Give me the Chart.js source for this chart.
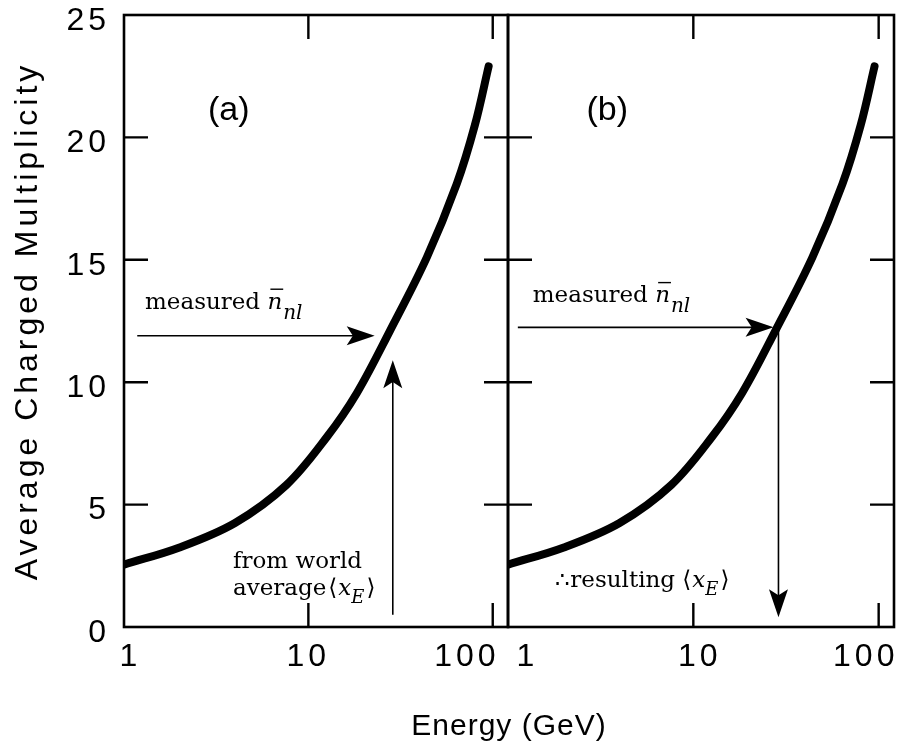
<!DOCTYPE html>
<html>
<head>
<meta charset="utf-8">
<script src="https://cdn.jsdelivr.net/npm/chart.js@4.4.1/dist/chart.umd.min.js"></script>
<style>
  html, body { margin: 0; padding: 0; background: #fff; overflow: hidden; }
  #wrap { position: relative; width: 906px; height: 745px; }
  #wrap canvas { position: absolute; left: 0; top: 0; }
  #xtitle {
    position: absolute; left: 309px; width: 400px; top: 710px;
    text-align: center; color: #000;
    font: 30px "Liberation Sans", Arial, sans-serif; line-height: 30px; letter-spacing: 1px;
  }
</style>
</head>
<body>
<div id="wrap">
  <canvas id="panel-a" width="906" height="745"></canvas>
  <canvas id="panel-b" width="906" height="745"></canvas>
  <div id="xtitle">Energy (GeV)</div>
</div>
<script>
// multiplicity curve
const energies = [1, 2, 4, 7.6, 12.6, 18.3, 27.7, 43.9, 63.8, 80, 95];
const multiplicity = [2.55, 3.25, 4.25, 5.8, 7.76, 9.55, 12.1, 15.1, 18.1, 20.5, 22.9];

const yTicks = [0, 5, 10, 15, 20, 25];
const xTicks = [1, 10, 100];

// arrows as [energy, multiplicity] start and end points
const measuredA = [[1.18, 11.9], [22.9, 11.9]];
const worldAvgA = [[28.7, 0.5], [28.7, 10.9]];
const measuredB = [[1.13, 12.24], [27.1, 12.24]];
const resultingB = [[28.8, 12.24], [28.8, 0.4]];

const SANS = '"Liberation Sans", Arial, sans-serif';
const SERIF = '"DejaVu Serif", serif';
const TICK = 24;

const curve = energies.map((e, i) => ({ x: e, y: multiplicity[i] }));

function drawArrow(ctx, x0, y0, x1, y1) {
  const len = 28, half = 9.5;
  const ang = Math.atan2(y1 - y0, x1 - x0);
  ctx.lineWidth = 1.6;
  ctx.beginPath();
  ctx.moveTo(x0, y0);
  ctx.lineTo(x1 - Math.cos(ang) * len * 0.7, y1 - Math.sin(ang) * len * 0.7);
  ctx.stroke();
  ctx.save();
  ctx.translate(x1, y1);
  ctx.rotate(ang);
  ctx.beginPath();
  ctx.moveTo(0, 0);
  ctx.lineTo(-len, -half);
  ctx.lineTo(-len * 0.78, 0);
  ctx.lineTo(-len, half);
  ctx.closePath();
  ctx.fill();
  ctx.restore();
}

// runs of serif text: plain, italic, subscript, overbar
function richText(ctx, x, y, runs) {
  let cx = x;
  ctx.textAlign = 'left';
  ctx.textBaseline = 'alphabetic';
  for (const r of runs) {
    const size = r.size || 23;
    ctx.font = (r.italic ? 'italic ' : '') + size + 'px ' + SERIF;
    const w = ctx.measureText(r.t).width;
    ctx.fillText(r.t, cx, y + (r.dy || 0));
    if (r.bar) {
      ctx.lineWidth = 1.4;
      ctx.beginPath();
      ctx.moveTo(cx + 3, y - size * 0.85);
      ctx.lineTo(cx + w + 1, y - size * 0.85);
      ctx.stroke();
    }
    cx += w + (r.gap || 0);
  }
}

const nbar = [
  { t: 'n', italic: true, bar: true, gap: 1 },
  { t: 'nl', italic: true, dy: 10, size: 20 }
];
const xE = [
  { t: '\u27E8', gap: 1 },
  { t: 'x', italic: true },
  { t: 'E', italic: true, dy: 8, size: 18, gap: 2 },
  { t: '\u27E9' }
];

const notesA = {
  tag: [3.7, 21.1, '(a)'],
  texts: [
    [1.3, 13.0, [{ t: 'measured ' }, ...nbar]],
    [3.9, 2.4, [{ t: 'from world' }]],
    [3.9, 1.3, [{ t: 'average', gap: 2 }, ...xE]]
  ],
  arrows: [measuredA, worldAvgA]
};
const notesB = {
  tag: [3.43, 21.1, '(b)'],
  texts: [
    [1.36, 13.27, [{ t: 'measured ' }, ...nbar]],
    [1.8, 1.63, [{ t: '\u2234resulting ' }, ...xE]]
  ],
  arrows: [measuredB, resultingB]
};

function framePlugin(notes) {
  return {
    id: 'frame',
    beforeDraw(chart) {
      chart.ctx.letterSpacing = '4px';
    },
    afterDraw(chart) {
      const { ctx, chartArea: a, scales: { x, y } } = chart;
      ctx.save();
      ctx.letterSpacing = '0px';
      ctx.strokeStyle = '#000';
      ctx.fillStyle = '#000';

      // box and inward ticks
      ctx.lineWidth = 2.6;
      ctx.strokeRect(a.left, a.top, a.right - a.left, a.bottom - a.top);
      ctx.lineWidth = 2.4;
      ctx.beginPath();
      yTicks.slice(1, -1).forEach(v => {
        const py = y.getPixelForValue(v);
        ctx.moveTo(a.left, py); ctx.lineTo(a.left + TICK, py);
        ctx.moveTo(a.right, py); ctx.lineTo(a.right - TICK, py);
      });
      xTicks.slice(1).forEach(v => {
        const px = x.getPixelForValue(v);
        ctx.moveTo(px, a.bottom); ctx.lineTo(px, a.bottom - TICK);
        ctx.moveTo(px, a.top); ctx.lineTo(px, a.top + TICK);
      });
      ctx.stroke();

      notes.arrows.forEach(([p0, p1]) => {
        drawArrow(ctx,
          x.getPixelForValue(p0[0]), y.getPixelForValue(p0[1]),
          x.getPixelForValue(p1[0]), y.getPixelForValue(p1[1]));
      });

      notes.texts.forEach(([e, m, runs]) => {
        richText(ctx, x.getPixelForValue(e), y.getPixelForValue(m), runs);
      });

      const [te, tm, tag] = notes.tag;
      ctx.font = '34px ' + SANS;
      ctx.textAlign = 'center';
      ctx.textBaseline = 'middle';
      ctx.fillText(tag, x.getPixelForValue(te), y.getPixelForValue(tm));
      ctx.restore();
    }
  };
}

function panel(canvasId, showY, padding, labels, notes) {
  return new Chart(document.getElementById(canvasId), {
    type: 'line',
    data: {
      datasets: [{
        data: curve,
        borderColor: '#000',
        borderWidth: 8,
        borderCapStyle: 'round',
        borderJoinStyle: 'round',
        tension: 0.35,
        pointRadius: 0,
        fill: false
      }]
    },
    options: {
      responsive: false,
      animation: false,
      layout: { padding },
      plugins: { legend: { display: false }, tooltip: { enabled: false } },
      scales: {
        x: {
          type: 'logarithmic',
          min: 1,
          max: 121,
          grid: { display: false, drawTicks: false },
          border: { display: false },
          afterBuildTicks: s => { s.ticks = xTicks.map(value => ({ value })); },
          afterFit: s => { s.height = 118; s.paddingLeft = 0; s.paddingRight = 0; },
          ticks: {
            padding: 11,
            maxRotation: 0,
            autoSkip: false,
            color: '#000',
            font: { family: SANS, size: 32 },
            callback: v => labels[v]
          }
        },
        y: {
          display: showY,
          min: 0,
          max: 25,
          grid: { display: false, drawTicks: false },
          border: { display: false },
          afterBuildTicks: s => { s.ticks = yTicks.map(value => ({ value })); },
          afterFit: s => { s.width = showY ? 124 : 0; s.paddingTop = 0; s.paddingBottom = 0; },
          ticks: {
            padding: 14,
            labelOffset: 6,
            color: '#000',
            font: { family: SANS, size: 32 }
          },
          title: {
            display: true,
            text: 'Average Charged Multiplicity',
            color: '#000',
            font: { family: SANS, size: 32 },
            padding: { top: 9, bottom: 0 }
          }
        }
      }
    },
    plugins: [framePlugin(notes)]
  });
}

panel('panel-a', true, { top: 15, right: 398, left: 0, bottom: 0 },
  { 1: ' 1', 10: '10', 100: '100    ' }, notesA);
panel('panel-b', false, { top: 15, right: 12, left: 508, bottom: 0 },
  { 1: '   1', 10: ' 10', 100: '100  ' }, notesB);
</script>
</body>
</html>
